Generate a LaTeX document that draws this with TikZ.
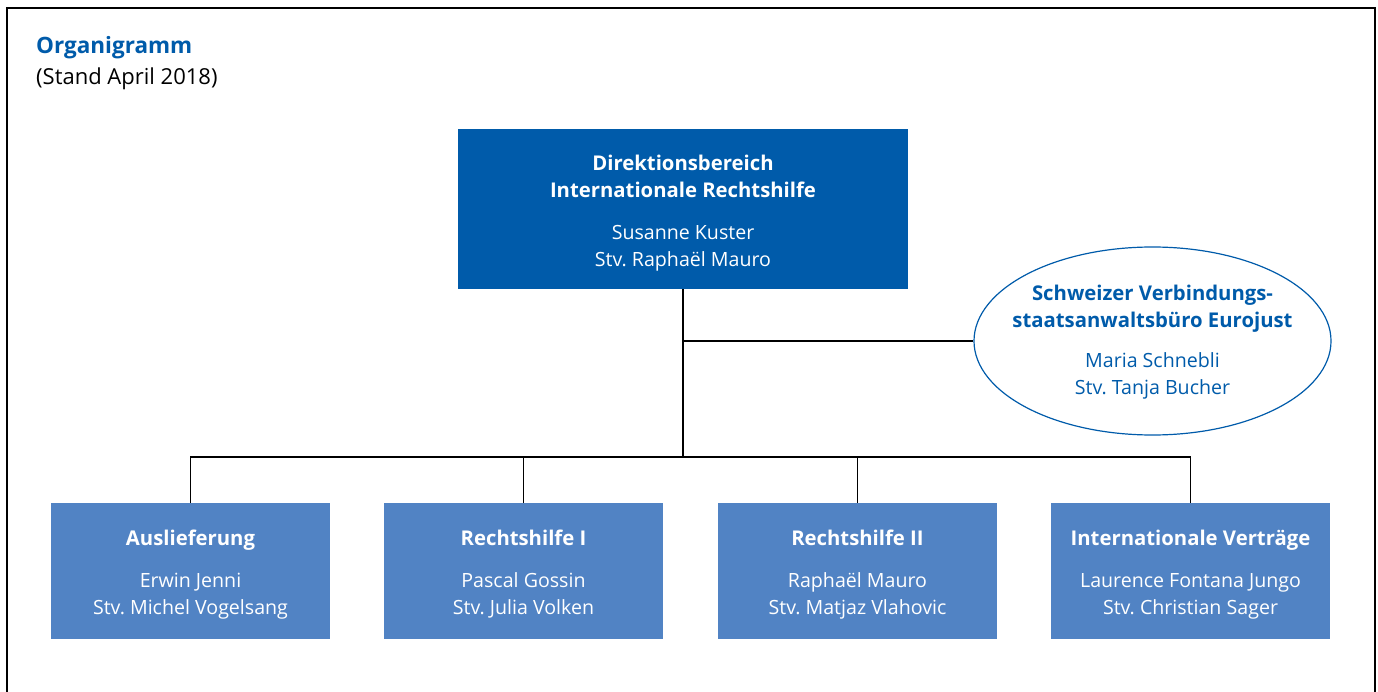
\documentclass[tikz,border=0pt]{standalone}
\usepackage{fontspec}
\setmainfont{Open Sans}
\usetikzlibrary{shapes.geometric}
\frenchspacing
\definecolor{dblue}{RGB}{0,91,170}
\definecolor{lblue}{RGB}{81,131,196}
\newcommand{\bt}[1]{{\fontsize{20.3}{27}\selectfont\bfseries #1}}
\newcommand{\dph}{\vphantom{gj}}
\tikzset{
  x=1pt,y=-1pt,
  txt/.style={align=center,inner sep=0pt,font=\fontsize{19.6}{27}\selectfont},
  topbox/.style={fill=dblue,minimum width=450pt,minimum height=160pt,inner sep=0pt},
  unitbox/.style={fill=lblue,minimum width=279pt,minimum height=136pt,inner sep=0pt},
  eubox/.style={ellipse,draw=dblue,line width=1.2pt,minimum width=357pt,minimum height=188pt,inner sep=0pt},
  conn/.style={draw=black,line width=1.2pt},
  frame/.style={draw=black,line width=1.5pt}
}
\begin{document}
\begin{tikzpicture}
\useasboundingbox (0,0) rectangle (1378,692);
\draw[frame] (7,692) -- (7,8) -- (1375,8) -- (1375,692);
\node[anchor=base west,text=dblue,font=\fontsize{22.5}{24}\selectfont\bfseries,inner sep=0pt] (title) at (36,54) {Organigramm};
\node[anchor=base west,font=\fontsize{22}{24}\selectfont,inner sep=0pt] (stand) at (36,85) {(Stand April 2018)};
\node[topbox] (top) at (683,209) {};
\node[txt,text=white] (toptext) at ([yshift=-4pt]top.center) {\bt{Direktionsbereich}\\\bt{Internationale Rechtshilfe}\\[15pt]Susanne Kuster\\Stv. Raphaël Mauro\dph};
\node[eubox] (eu) at (1152.5,341) {};
\node[txt,text=dblue] (eutext) at ([yshift=-1.5pt]eu.center) {\bt{Schweizer Verbindungs-}\\\bt{staatsanwaltsbüro Eurojust}\\[13pt]Maria Schnebli\\Stv. Tanja Bucher\dph};
\node[unitbox] (b1) at (190.5,571) {};
\node[unitbox] (b2) at (523.5,571) {};
\node[unitbox] (b3) at (857.5,571) {};
\node[unitbox] (b4) at (1190.5,571) {};
\node[txt,text=white] (t1) at ([yshift=-4pt]b1.center) {\bt{Auslieferung}\\[15pt]Erwin Jenni\\Stv. Michel Vogelsang\dph};
\node[txt,text=white] (t2) at ([yshift=-4pt]b2.center) {\bt{Rechtshilfe I}\\[15pt]Pascal Gossin\\Stv. Julia Volken\dph};
\node[txt,text=white] (t3) at ([yshift=-4pt]b3.center) {\bt{Rechtshilfe II}\\[15pt]Raphaël Mauro\\Stv. Matjaz Vlahovic\dph};
\node[txt,text=white] (t4) at ([yshift=-4pt]b4.center) {\bt{Internationale Verträge}\\[15pt]Laurence Fontana Jungo\\Stv. Christian Sager\dph};
\coordinate (bus) at (683,457);
\draw[conn] (top.south) -- (bus);
\draw[conn] (top.south |- eu.west) -- (eu.west);
\draw[conn] (b1.north) -- (b1.north |- bus) -- (b4.north |- bus) -- (b4.north);
\draw[conn] (b2.north) -- (b2.north |- bus);
\draw[conn] (b3.north) -- (b3.north |- bus);
\end{tikzpicture}
\end{document}
